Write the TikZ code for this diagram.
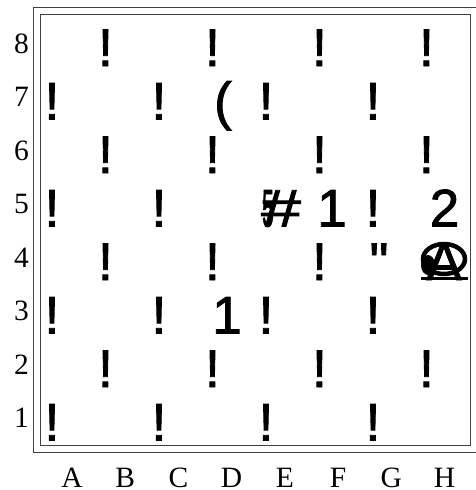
\documentclass[tikz,border=0pt]{standalone}
\usepackage{fontspec}
\setmainfont{Liberation Serif}
\newfontfamily\glyphfont[FakeBold=1.6]{Liberation Sans}
\begin{document}
\begin{tikzpicture}[x=1pt,y=-1pt,
  frame/.style={draw=black!75,line width=1.3pt},
  pc/.style={font=\glyphfont\fontsize{53}{53}\selectfont,inner sep=0pt,anchor=base},
  lbl/.style={font=\fontsize{29.5}{30}\selectfont,inner sep=0pt,anchor=base}]
\useasboundingbox (0,0) rectangle (476,490);
\clip (0,0) rectangle (476,490);
\fill[white] (0,0) rectangle (476,490);
% frames
\draw[frame] (33.5,7.5) rectangle (480,452.5);
\draw[frame] (40.7,14.7) rectangle (470.3,445.7);
% dark-square markers
\foreach \c/\r in {1/8,3/8,5/8,7/8, 0/7,2/7,4/7,6/7, 1/6,3/6,5/6,7/6, 0/5,2/5,6/5,
  1/4,3/4,5/4, 0/3,2/3,4/3,6/3, 1/2,3/2,5/2,7/2, 0/1,2/1,4/1,6/1}
  \node[pc] (d\c\r) at ({52+53.5*\c},{66+53.5*(8-\r)}) {!};
% pieces
\node[pc] (d7) at (223,119.5) {(};
\node[pc] (e5) at (281,226.5) {\scalebox{1.35}[1]{\#}};
\node[pc] (e5b) at (268,226.5) {\scalebox{0.4}[1]{5}};
\node[pc] (f5) at (332,226.5) {1};
\node[pc] (h5) at (444.5,226.5) {2};
\node[pc] (g4) at (379,280) {"};
\node[pc] (h4) at (444,280) {A};
\draw[line width=4.5pt] (444,259) ellipse [x radius=21, y radius=15];
\fill (428,265) ellipse [x radius=7, y radius=10];
\draw[line width=2.5pt] (421,278.5) -- (468,278.5);
\node[pc] (d3) at (227,333.5) {1};
% rank labels
\foreach \r in {1,...,8}
  \node[lbl] (rank\r) at (21.5,{53+53.5*(8-\r)}) {\r};
% file labels
\foreach \f [count=\k from 0] in {A,B,C,D,E,F,G,H}
  \node[lbl] (file\f) at ({72+53.2*\k},487.5) {\f};
\end{tikzpicture}
\end{document}
